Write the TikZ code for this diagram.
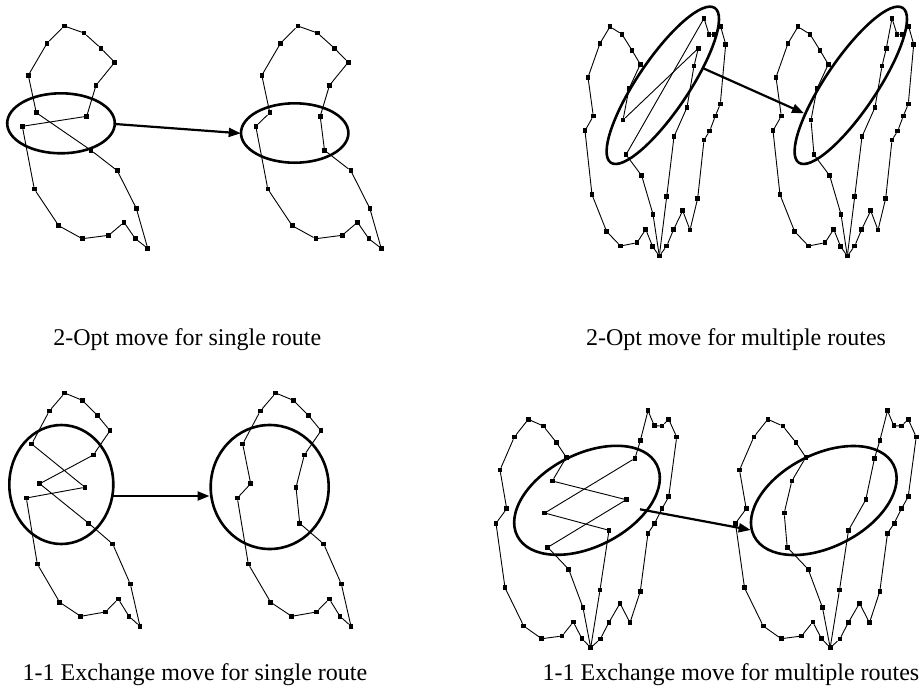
\documentclass[tikz,border=0pt]{standalone}
\usepackage{fontspec}
\setmainfont{Liberation Serif}
\usetikzlibrary{shapes.geometric,arrows.meta}
\def\ptsA{1/64.3/26,2/84/33,3/101/48.3,4/114.7/62.3,5/96/85.3,6/86.7/116.3,7/22.3/126.3,8/34.3/189,9/58.7/225.7,10/82.3/238.7,11/108.7/235.3,12/124/222.3,13/135.3/238.7,14/147.7/248.3,15/136.3/208.3,16/117.3/170.7,17/91/150.3,18/36.3/112.7,19/28.3/75.3,20/47/43.3}
\def\ptsB{1/64.7/393,2/82.3/400.3,3/97.7/415.7,4/110/430.7,5/93.3/455,6/39.7/483.7,7/88.7/523.3,8/112.7/544,9/130.3/584,10/140/626.3,11/129/616.3,12/118.3/599,13/105.3/612,14/80.7/616.3,15/59.7/602.3,16/37.3/564,17/26.3/498,18/85/487.3,19/31.7/444,20/49.3/411}
\def\ptsC{P1/610.0/26.7,P2/622.0/34.3,P3/632.0/50.3,P4/640.3/64.3,P5/629.0/88.7,P6/623.0/120.0,P7/600.0/43.3,P8/588.0/77.3,P9/593.3/116.0,P10/585.0/130.7,P11/592.0/194.7,P12/606.7/231.7,P13/620.7/246.0,P14/637.0/242.7,P15/645.7/229.3,P16/652.7/246.7,D/659.3/256.0,P17/653.0/214.3,P18/641.7/175.7,P19/626.0/154.7,Q1/698.3/48.3,Q2/694.0/66.0,Q3/687.0/107.3,Q4/674.0/136.7,Q5/666.7/196.7,R1/666.7/246.0,R2/673.7/229.3,R3/682.7/210.7,R4/690.0/230.0,R5/697.7/198.3,R6/704.0/140.0,R7/709.7/131.0,R8/715.3/116.0,R9/720.3/104.0,R10/725.7/44.3,R11/720.7/26.7,R12/714.7/34.3,R13/709.0/34.3,R14/704.0/18.3}
\def\ptsE{E1/528.3/419.3,E2/543.3/426,E3/556.3/442.3,E4/566.3/457.3,E5/552.3/481,E6/514.3/437,E7/500/470,E8/506.7/508.7,E9/496/523.3,E10/505/587.7,E11/523.7/626,E12/541.7/638.7,E13/562/636,E14/573.3/622,E15/582/638.7,D/590.7/647.7,E16/583/607.7,E17/568.7/569.3,E18/547.7/547.3,E19/544.7/513,F1/609/530.3,F2/626.3/499.7,F3/635/458.3,F4/640.3/440.7,F5/648/410.7,F6/654.3/425.7,F7/662/426,F8/668.7/419.3,F9/676.7/437,F10/668.7/496.7,F11/662/508.7,F12/654.7/523.3,F13/648/533.3,F14/640.3/591.3,F15/630/622.7,F16/620/603.3,F17/609/622.3,F18/600.3/639,F19/600/590}
\begin{document}
\begin{tikzpicture}[x=1pt,y=-1pt,
  vtx/.style={rectangle,fill=black,draw=none,inner sep=0pt,outer sep=0pt,minimum size=4.6pt},
  route/.style={line width=0.9pt,line join=round},
  ell/.style={ellipse,draw,line width=2.6pt,inner sep=0pt,outer sep=0pt},
  arr/.style={line width=2.2pt,-{Triangle[length=12pt,width=9pt]}},
  lbl/.style={font=\fontsize{24}{28}\selectfont,inner sep=0pt,anchor=base}]
\useasboundingbox (0,0) rectangle (922,689);
% ---- nodes (customers / depot)
\foreach \n/\x/\y in \ptsA {\node[vtx] (a\n) at (\x,\y) {};}
\begin{scope}[xshift=233.5pt]
\foreach \n/\x/\y in \ptsA {\node[vtx] (b\n) at (\x,\y) {};}
\end{scope}
\foreach \n/\x/\y in \ptsB {\node[vtx] (c\n) at (\x,\y) {};}
\begin{scope}[xshift=211pt]
\foreach \n/\x/\y in \ptsB {\node[vtx] (d\n) at (\x,\y) {};}
\end{scope}
\foreach \n/\x/\y in \ptsC {\node[vtx] (u\n) at (\x,\y) {};}
\begin{scope}[xshift=188pt]
\foreach \n/\x/\y in \ptsC {\node[vtx] (v\n) at (\x,\y) {};}
\end{scope}
\foreach \n/\x/\y in \ptsE {\node[vtx] (w\n) at (\x,\y) {};}
\begin{scope}[xshift=239.5pt]
\foreach \n/\x/\y in \ptsE {\node[vtx] (z\n) at (\x,\y) {};}
\end{scope}
% ---- 2-opt single route
\draw[route] (a1)--(a2)--(a3)--(a4)--(a5)--(a6)--(a7)--(a8)--(a9)--(a10)--(a11)--(a12)--(a13)--(a14)--(a15)--(a16)--(a17)--(a18)--(a19)--(a20)--(a1);
\draw[route] (b1)--(b2)--(b3)--(b4)--(b5)--(b6)--(b17)--(b16)--(b15)--(b14)--(b13)--(b12)--(b11)--(b10)--(b9)--(b8)--(b7)--(b18)--(b19)--(b20)--(b1);
% ---- 1-1 exchange single route
\draw[route] (c1)--(c2)--(c3)--(c4)--(c5)--(c6)--(c7)--(c8)--(c9)--(c10)--(c11)--(c12)--(c13)--(c14)--(c15)--(c16)--(c17)--(c18)--(c19)--(c20)--(c1);
\draw[route] (d1)--(d2)--(d3)--(d4)--(d5)--(d18)--(d7)--(d8)--(d9)--(d10)--(d11)--(d12)--(d13)--(d14)--(d15)--(d16)--(d17)--(d6)--(d19)--(d20)--(d1);
% ---- 2-opt multiple routes
\draw[route] (uD)--(uP17)--(uP18)--(uP19)--(uR14)--(uR13)--(uR12)--(uR11)--(uR10)--(uR9)--(uR8)--(uR7)--(uR6)--(uR5)--(uR4)--(uR3)--(uR2)--(uR1)--(uD);
\draw[route] (uD)--(uQ5)--(uQ4)--(uQ3)--(uQ2)--(uQ1)--(uP6)--(uP5)--(uP4)--(uP3)--(uP2)--(uP1)--(uP7)--(uP8)--(uP9)--(uP10)--(uP11)--(uP12)--(uP13)--(uP14)--(uP15)--(uP16)--(uD);
\draw[route] (vD)--(vP17)--(vP18)--(vP19)--(vP6)--(vP5)--(vP4)--(vP3)--(vP2)--(vP1)--(vP7)--(vP8)--(vP9)--(vP10)--(vP11)--(vP12)--(vP13)--(vP14)--(vP15)--(vP16)--(vD);
\draw[route] (vD)--(vQ5)--(vQ4)--(vQ3)--(vQ2)--(vQ1)--(vR14)--(vR13)--(vR12)--(vR11)--(vR10)--(vR9)--(vR8)--(vR7)--(vR6)--(vR5)--(vR4)--(vR3)--(vR2)--(vR1)--(vD);
% ---- 1-1 exchange multiple routes
\draw[route] (wD)--(wE15)--(wE14)--(wE13)--(wE12)--(wE11)--(wE10)--(wE9)--(wE8)--(wE7)--(wE6)--(wE1)--(wE2)--(wE3)--(wE4)--(wE5)--(wF2)--(wE18)--(wE17)--(wE16)--(wD);
\draw[route] (wD)--(wF19)--(wF1)--(wE19)--(wF3)--(wF4)--(wF5)--(wF6)--(wF7)--(wF8)--(wF9)--(wF10)--(wF11)--(wF12)--(wF13)--(wF14)--(wF15)--(wF16)--(wF17)--(wF18)--(wD);
\draw[route] (zD)--(zE15)--(zE14)--(zE13)--(zE12)--(zE11)--(zE10)--(zE9)--(zE8)--(zE7)--(zE6)--(zE1)--(zE2)--(zE3)--(zE4)--(zE5)--(zE19)--(zE18)--(zE17)--(zE16)--(zD);
\draw[route] (zD)--(zF19)--(zF1)--(zF2)--(zF3)--(zF4)--(zF5)--(zF6)--(zF7)--(zF8)--(zF9)--(zF10)--(zF11)--(zF12)--(zF13)--(zF14)--(zF15)--(zF16)--(zF17)--(zF18)--(zD);
% ---- ellipses
\node[ell,minimum width=107.6pt,minimum height=60pt] (ea) at (61,123.3) {};
\node[ell,minimum width=107.4pt,minimum height=59.4pt] (eb) at (294.7,133) {};
\node[ell,minimum width=104pt,minimum height=119pt] (ec) at (61.3,484.5) {};
\node[ell,minimum width=118pt,minimum height=124pt] (ed) at (269.7,487) {};
\node[ell,minimum width=186.4pt,minimum height=51.4pt,rotate=56.1] (eu) at (662.8,85.3) {};
\node[ell,minimum width=186.4pt,minimum height=51.4pt,rotate=56.1] (ev) at (850.8,85.3) {};
\node[ell,minimum width=156.6pt,minimum height=92.6pt,rotate=27.1] (ew) at (587,500.3) {};
\node[ell,minimum width=156.6pt,minimum height=92.6pt,rotate=27.1] (ez) at (823.8,500.5) {};
% ---- arrows
\coordinate (s1) at (115,124);   \coordinate (t1) at (240.7,133.3);
\coordinate (s2) at (113.3,496); \coordinate (t2) at (209.5,496);
\coordinate (s3) at (703.3,68.3); \coordinate (t3) at (804,113.3);
\coordinate (s4) at (640,509.3); \coordinate (t4) at (750.7,530);
\draw[arr] (s1) -- (t1);
\draw[arr] (s2) -- (t2);
\draw[arr] (s3) -- (t3);
\draw[arr] (s4) -- (t4);
% ---- captions
\node[lbl] (l1) at (187.3,345) {2-Opt move for single route};
\node[lbl] (l2) at (736,345) {2-Opt move for multiple routes};
\node[lbl] (l3) at (195,680.7) {1-1 Exchange move for single route};
\node[lbl] (l4) at (731,680.7) {1-1 Exchange move for multiple routes};
\end{tikzpicture}
\end{document}
